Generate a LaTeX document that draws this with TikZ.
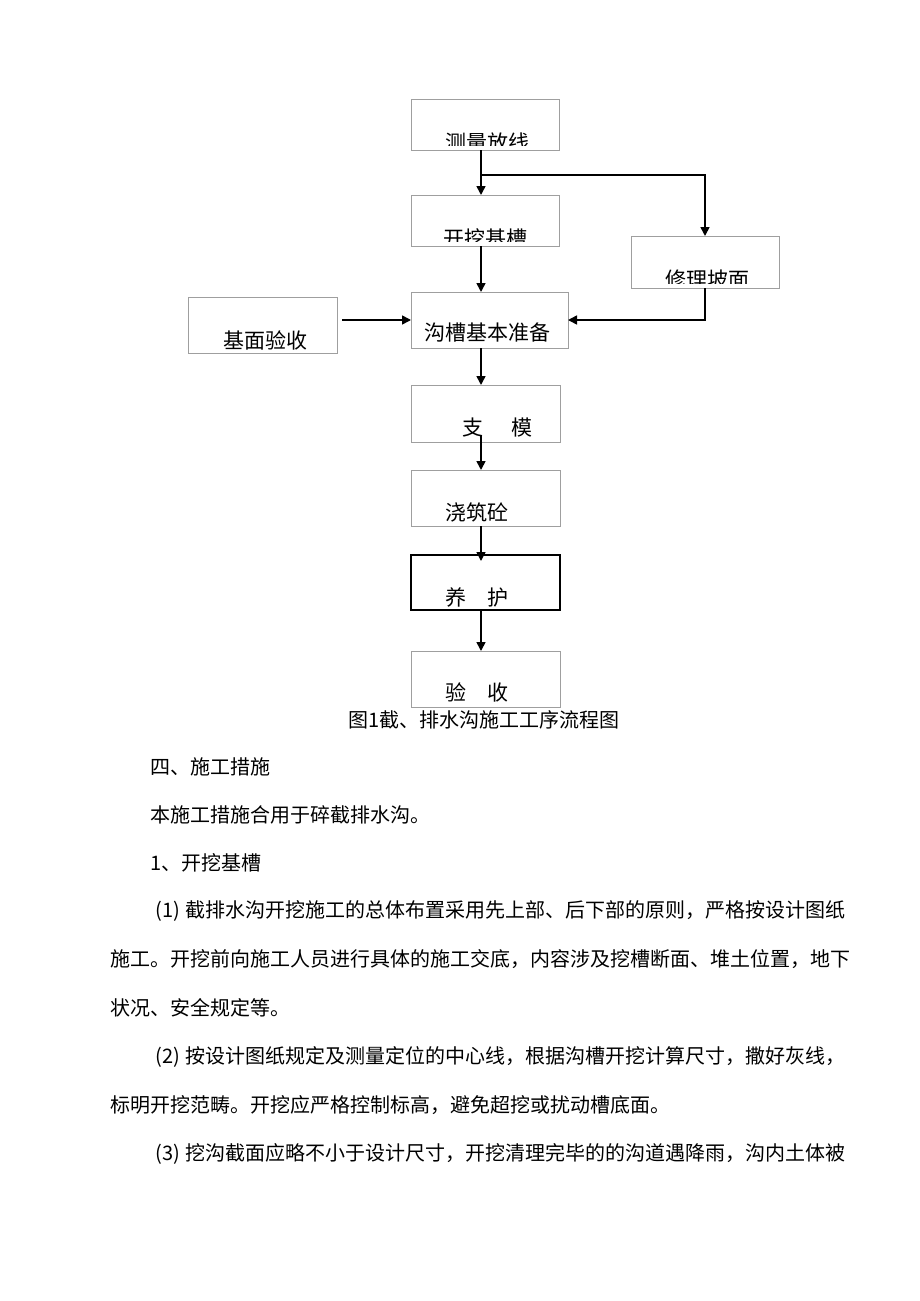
\documentclass[tikz,border=0pt]{standalone}
\usepackage{fontspec}
\setmainfont{Noto Sans CJK SC}
\usepackage{tikz}
\usetikzlibrary{arrows.meta}

\begin{document}
\begin{tikzpicture}[x=1pt,y=-1pt]
            \tikzset{box/.style={draw=gray!75,line width=0.8pt,inner sep=0pt,outer sep=0pt}}
            \tikzset{boxthick/.style={draw=black,line width=1.6pt,inner sep=0pt,outer sep=0pt}}
            \tikzset{lbl/.style={inner sep=0pt,font=\fontsize{21pt}{24pt}\selectfont}}
            \tikzset{txt/.style={anchor=west,inner sep=0pt,font=\fontsize{20pt}{24pt}\selectfont}}
            \tikzset{flow/.style={line width=1.6pt,-{Triangle[length=9pt,width=9pt]}}}
            % \tikzset{flow/.append style={draw=black!90}}
            \path[fill=white] (0,0) rectangle (920,1301);
            \useasboundingbox (0,0) rectangle (920,1301);

            % boxes
            \node[box,minimum width=148pt,minimum height=51pt] (celiang) at (485,124.5) {};
            \node[box,minimum width=148pt,minimum height=51pt] (kaiwa) at (485,220.5) {};
            \node[box,minimum width=148pt,minimum height=52pt] (xiuli) at (705,262) {};
            \node[box,minimum width=157pt,minimum height=56pt] (goucao) at (489.5,320) {};
            \node[box,minimum width=149pt,minimum height=56pt] (jimian) at (262.5,325) {};
            \node[box,minimum width=149pt,minimum height=57pt] (zhimo) at (485.5,413.5) {};
            \node[box,minimum width=149pt,minimum height=56pt] (jiaozhu) at (485.5,498) {};
            \node[boxthick,minimum width=149pt,minimum height=55pt] (yanghu) at (485.5,582.5) {};
            \node[box,minimum width=149pt,minimum height=56pt] (yanshou) at (485.5,679) {};

            % labels, the top three are cut off at the bottom
            \begin{scope}
            \clip (celiang.north west) rectangle ([yshift=5pt]celiang.south east);
            \node[lbl] (celiang-t) at (487.5,142.5) {测量放线};
            \end{scope}
            \begin{scope}
            \clip (kaiwa.north west) rectangle ([yshift=5pt]kaiwa.south east);
            \node[lbl] (kaiwa-t) at (485,238.5) {开挖基槽};
            \end{scope}
            \begin{scope}
            \clip (xiuli.north west) rectangle ([yshift=5pt]xiuli.south east);
            \node[lbl] (xiuli-t) at (707.5,279.5) {修理坡面};
            \end{scope}
            \node[lbl] (goucao-t) at (487.5,333) {沟槽基本准备};
            \node[lbl] (jimian-t) at (265,340) {基面验收};
            \node[lbl] (zhimo-t) at (497.5,428) {支\hspace{29pt}模};
            \node[lbl] (jiaozhu-t) at (476.5,512) {浇筑砼};
            \node[lbl] (yanghu-t) at (476.5,597) {养\hspace{21pt}护};
            \node[lbl] (yanshou-t) at (476.5,692) {验\hspace{21pt}收};

            % arrows
            \coordinate (fork) at (481,175);
            \draw[flow] ([xshift=-4pt]celiang.south) -- ([xshift=-4pt]kaiwa.north);
            \draw[flow] (fork) -| (xiuli.north);
            \draw[flow] ([xshift=-4pt]kaiwa.south) -- ([xshift=-4pt]kaiwa.south |- goucao.north);
            \draw[flow] ([xshift=5pt]jimian.east |- goucao.west) -- (goucao.west);
            \draw[flow] (xiuli.south) |- (goucao.east);
            \draw[flow] ([xshift=-4pt]kaiwa.south |- goucao.south) -- ([xshift=-4.5pt]zhimo.north);
            \draw[flow] ([xshift=-4.5pt,yshift=7pt]zhimo.south) -- ([xshift=-4.5pt]jiaozhu.north);
            \draw[flow] ([xshift=-4.5pt]jiaozhu.south) -- ([xshift=-4.5pt,yshift=-6pt]yanghu.north);
            \draw[flow] ([xshift=-4.5pt]yanghu.south) -- ([xshift=-4.5pt]yanshou.north);

            % caption and text below
            \node[inner sep=0pt,font=\fontsize{20pt}{24pt}\selectfont] (caption) at (484,720) {图1截、排水沟施工工序流程图};
            \node[txt] (line1) at (150,767) {四、施工措施};
            \node[txt] (line2) at (150,815) {本施工措施合用于碎截排水沟。};
            \node[txt] (line3) at (150,863) {1、开挖基槽};
            \node[txt] (line4) at (150,911) {\makebox[35pt][c]{(1)}截排水沟开挖施工的总体布置采用先上部、后下部的原则，严格按设计图纸};
            \node[txt] (line5) at (110,959) {施工。开挖前向施工人员进行具体的施工交底，内容涉及挖槽断面、堆土位置，地下};
            \node[txt] (line6) at (110,1008) {状况、安全规定等。};
            \node[txt] (line7) at (150,1057) {\makebox[35pt][c]{(2)}按设计图纸规定及测量定位的中心线，根据沟槽开挖计算尺寸，撒好灰线，};
            \node[txt] (line8) at (110,1105) {标明开挖范畴。开挖应严格控制标高，避免超挖或扰动槽底面。};
            \node[txt] (line9) at (150,1154) {\makebox[35pt][c]{(3)}挖沟截面应略不小于设计尺寸，开挖清理完毕的的沟道遇降雨，沟内土体被};
\end{tikzpicture}
\end{document}
